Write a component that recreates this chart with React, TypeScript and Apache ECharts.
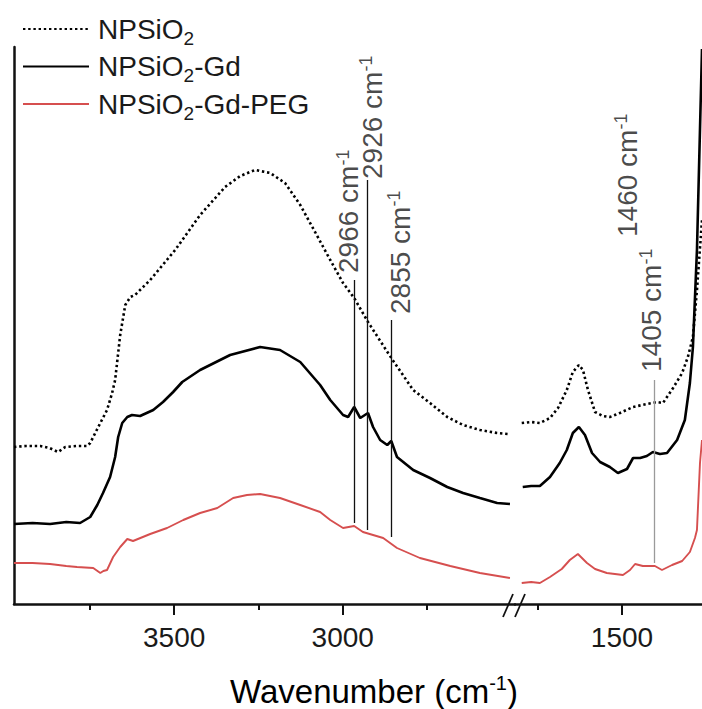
import React, { useEffect, useRef } from "react";
import * as echarts from "echarts";

const FONT = '"Liberation Sans", Arial, Helvetica, sans-serif';
const TEXT = "#1a1a1a";
const AXIS = "#111111";
const RED = "#d64f4f";

// x-axis ticks (cm-1)
const majorTicksLeft = [3500, 3000];
const minorTicksLeft = [3750, 3250, 2750];
const majorTicksRight = [1500];
const minorTicksRight = [1750];

const seriesNames = ["NPSiO2", "NPSiO2-Gd", "NPSiO2-Gd-PEG"];

// [wavenumber cm-1, intensity a.u.]
const npsio2Left = [
  [3975, 157], [3940, 158], [3897, 158], [3870, 156], [3844, 152], [3823, 157], [3790, 158],
  [3758, 158], [3749, 161], [3734, 171], [3719, 181], [3699, 194], [3684, 211], [3675, 224],
  [3660, 269], [3645, 299], [3630, 307], [3616, 309], [3571, 324], [3497, 354], [3423, 389],
  [3349, 417], [3304, 428], [3260, 434], [3215, 431], [3171, 421], [3126, 399], [3082, 372],
  [3037, 344], [2999, 321], [2966, 306], [2925, 282], [2856, 246], [2791, 214], [2741, 201],
  [2690, 187], [2643, 179], [2593, 174], [2542, 171], [2509, 170],
];
const npsio2Right = [
  [1798, 181], [1770, 182], [1744, 181], [1714, 186], [1690, 196], [1664, 214], [1646, 232],
  [1628, 239], [1616, 234], [1601, 214], [1580, 192], [1557, 188], [1536, 187], [1506, 191],
  [1467, 197], [1426, 200], [1396, 202], [1378, 201], [1348, 216], [1321, 231], [1304, 247],
  [1289, 267], [1277, 314], [1262, 384],
];
const gdLeft = [
  [3975, 80], [3920, 81], [3868, 80], [3820, 82], [3779, 81], [3749, 87], [3728, 99],
  [3711, 111], [3690, 127], [3675, 147], [3666, 167], [3654, 181], [3639, 187], [3625, 189],
  [3601, 188], [3562, 194], [3533, 202], [3503, 212], [3476, 222], [3423, 234], [3334, 249],
  [3245, 257], [3186, 254], [3126, 242], [3067, 219], [3037, 204], [2999, 189], [2984, 187],
  [2966, 197], [2948, 186], [2925, 191], [2910, 177], [2889, 164], [2868, 159], [2856, 163],
  [2839, 147], [2791, 134], [2741, 126], [2690, 117], [2643, 111], [2593, 106], [2542, 101],
  [2504, 100],
];
const gdRight = [
  [1795, 117], [1770, 118], [1744, 118], [1714, 127], [1685, 141], [1664, 154], [1646, 171],
  [1628, 177], [1610, 169], [1589, 151], [1565, 142], [1536, 137], [1512, 131], [1485, 135],
  [1467, 146], [1446, 146], [1426, 148], [1408, 152], [1387, 150], [1366, 151], [1336, 164],
  [1313, 184], [1298, 221], [1289, 257], [1277, 354], [1262, 555],
];
const pegLeft = [
  [3975, 41], [3920, 41], [3868, 40], [3820, 38], [3788, 37], [3740, 36], [3719, 31],
  [3710, 33], [3699, 34], [3681, 47], [3660, 57], [3639, 65], [3622, 63], [3571, 70],
  [3521, 76], [3473, 84], [3423, 91], [3372, 96], [3325, 106], [3284, 109], [3245, 110],
  [3186, 106], [3126, 99], [3067, 92], [3037, 84], [2999, 76], [2966, 78], [2940, 72],
  [2910, 69], [2880, 66], [2839, 56], [2771, 46], [2681, 38], [2593, 31], [2504, 26],
];
const pegRight = [
  [1798, 21], [1770, 22], [1744, 21], [1714, 27], [1679, 35], [1655, 44], [1631, 50],
  [1604, 41], [1580, 35], [1545, 31], [1497, 29], [1476, 34], [1461, 40], [1438, 38],
  [1402, 38], [1381, 34], [1351, 39], [1321, 43], [1298, 52], [1283, 66], [1277, 74],
  [1268, 141], [1262, 164],
];

// annotated peaks (cm-1)
const peaksLeft = [2966, 2926, 2855];
const peaksRight = [1460, 1405];

// annotation geometry in data units: line [from, to] intensity, label anchor [x, y]
const peakMarksLeft = [
  { line: [324, 81], label: [2982, 331], color: AXIS },
  { line: [424, 74], label: [2913, 425], color: AXIS },
  { line: [284, 67], label: [2830, 290], color: AXIS },
];
const peakMarksRight = [
  { line: null, label: [1484, 367], color: "#9a9a9a" },
  { line: [224, 41], label: [1411, 232], color: "#9a9a9a" },
];

const labelRich = {
  m: { fontSize: 28, lineHeight: 30, fontFamily: FONT, color: TEXT },
  u: { fontSize: 18, lineHeight: 14, verticalAlign: "top", fontFamily: FONT, color: TEXT },
};

const legendRich = {
  m: { fontSize: 28, lineHeight: 37, fontFamily: FONT, color: TEXT },
  s: { fontSize: 19, lineHeight: 12, verticalAlign: "bottom", fontFamily: FONT, color: TEXT },
};

const legendText: Record<string, string> = {
  "NPSiO2": "{m|NPSiO}{s|2}",
  "NPSiO2-Gd": "{m|NPSiO}{s|2}{m|-Gd}",
  "NPSiO2-Gd-PEG": "{m|NPSiO}{s|2}{m|-Gd-PEG}",
};

function xAxisPair(gridIndex: number, min: number, max: number, major: number[], minor: number[]) {
  const base = {
    type: "value",
    gridIndex,
    min,
    max,
    inverse: true,
    position: "bottom",
    offset: 0,
    splitLine: { show: false },
  };
  return [
    {
      ...base,
      axisLine: { show: true, onZero: false, lineStyle: { color: AXIS, width: 2.5 } },
      axisTick: { show: true, customValues: major, length: 11, lineStyle: { color: AXIS, width: 2 } },
      axisLabel: {
        show: true,
        customValues: major,
        margin: 19,
        fontSize: 28,
        fontFamily: FONT,
        color: TEXT,
        formatter: (v: number) => String(v),
      },
    },
    {
      ...base,
      axisLine: { show: false, onZero: false },
      axisTick: { show: true, customValues: minor, length: 6, lineStyle: { color: AXIS, width: 2 } },
      axisLabel: { show: false },
    },
  ];
}

function peakSeries(
  xAxisIndex: number,
  yAxisIndex: number,
  peaks: number[],
  marks: { line: number[] | null; label: number[]; color: string }[]
) {
  const lines: any[] = [];
  peaks.forEach((p, i) => {
    const m = marks[i];
    if (m.line) {
      lines.push([
        { coord: [p, m.line[0]], lineStyle: { color: m.color, width: 1.3, type: "solid" } },
        { coord: [p, m.line[1]] },
      ]);
    }
  });
  return {
    type: "scatter",
    xAxisIndex,
    yAxisIndex,
    symbolSize: 1,
    itemStyle: { color: "rgba(0,0,0,0)" },
    silent: true,
    z: 5,
    data: peaks.map((p, i) => ({ name: String(p), value: marks[i].label })),
    label: {
      show: true,
      position: "inside",
      rotate: 90,
      align: "left",
      verticalAlign: "middle",
      formatter: (d: any) => `{m|${d.name} cm}{u|-1}`,
      rich: labelRich,
    },
    markLine: {
      silent: true,
      symbol: ["none", "none"],
      label: { show: false },
      animation: false,
      data: lines,
    },
  };
}

function lineSeries(name: string, data: number[][], xAxisIndex: number, yAxisIndex: number, style: any) {
  return {
    name,
    type: "line",
    xAxisIndex,
    yAxisIndex,
    data,
    symbol: "none",
    showSymbol: false,
    smooth: false,
    silent: true,
    lineStyle: style,
    itemStyle: { color: style.color },
    z: 3,
  };
}

export default function App() {
  const ref = useRef<HTMLDivElement>(null);

  useEffect(() => {
    if (!ref.current) return;
    const chart = echarts.init(ref.current, null, { renderer: "svg" });

    const dotted = { color: "#000000", width: 2.6, type: [2.4, 2.8], cap: "butt" };
    const solid = { color: "#000000", width: 2.6, type: "solid" };
    const red = { color: RED, width: 1.9, type: "solid" };

    const option = {
      animation: false,
      backgroundColor: "#ffffff",
      grid: [
        { left: 14, top: 47, width: 501, height: 557, containLabel: false },
        { left: 515, top: 47, width: 187, height: 557, containLabel: false },
      ],
      xAxis: [
        ...xAxisPair(0, 2489, 3975, majorTicksLeft, minorTicksLeft),
        ...xAxisPair(1, 1262, 1818, majorTicksRight, minorTicksRight),
      ],
      yAxis: [
        {
          type: "value",
          gridIndex: 0,
          min: 0,
          max: 557,
          axisLine: { show: true, lineStyle: { color: AXIS, width: 2.5 } },
          axisTick: { show: false },
          axisLabel: { show: false },
          splitLine: { show: false },
        },
        {
          type: "value",
          gridIndex: 1,
          min: 0,
          max: 557,
          show: false,
          splitLine: { show: false },
        },
      ],
      legend: {
        orient: "vertical",
        left: 22,
        top: 15,
        padding: 0,
        itemWidth: 66,
        itemHeight: 14,
        itemGap: 5,
        selectedMode: false,
        data: seriesNames,
        itemStyle: { opacity: 0, color: "rgba(0,0,0,0)", borderWidth: 0 },
        formatter: (n: string) => legendText[n] || n,
        textStyle: {
          color: TEXT,
          fontFamily: FONT,
          fontSize: 28,
          padding: [0, 0, 0, 4],
          rich: legendRich,
        },
      },
      series: [
        lineSeries(seriesNames[0], npsio2Left, 0, 0, dotted),
        lineSeries(seriesNames[0], npsio2Right, 2, 1, dotted),
        lineSeries(seriesNames[1], gdLeft, 0, 0, solid),
        lineSeries(seriesNames[1], gdRight, 2, 1, solid),
        lineSeries(seriesNames[2], pegLeft, 0, 0, red),
        lineSeries(seriesNames[2], pegRight, 2, 1, red),
        peakSeries(0, 0, peaksLeft, peakMarksLeft),
        peakSeries(2, 1, peaksRight, peakMarksRight),
      ],
      graphic: [
        {
          type: "text",
          x: 374,
          y: 691,
          style: {
            text: "{m|Wavenumber (cm}{u|-1}{m|)}",
            align: "center",
            verticalAlign: "middle",
            rich: {
              m: { fontSize: 33, lineHeight: 36, fontFamily: FONT, color: TEXT },
              u: { fontSize: 20, lineHeight: 16, verticalAlign: "top", fontFamily: FONT, color: TEXT },
            },
          },
        },
        {
          type: "line",
          shape: { x1: 503, y1: 617, x2: 513, y2: 594 },
          style: { stroke: AXIS, lineWidth: 1.8 },
        },
        {
          type: "line",
          shape: { x1: 515, y1: 617, x2: 525, y2: 594 },
          style: { stroke: AXIS, lineWidth: 1.8 },
        },
      ],
    };

    chart.setOption(option as any);
    return () => chart.dispose();
  }, []);

  return (
    <div
      ref={ref}
      style={{ position: "fixed", left: 0, top: 0, width: 702, height: 709, background: "#fff" }}
    />
  );
}
